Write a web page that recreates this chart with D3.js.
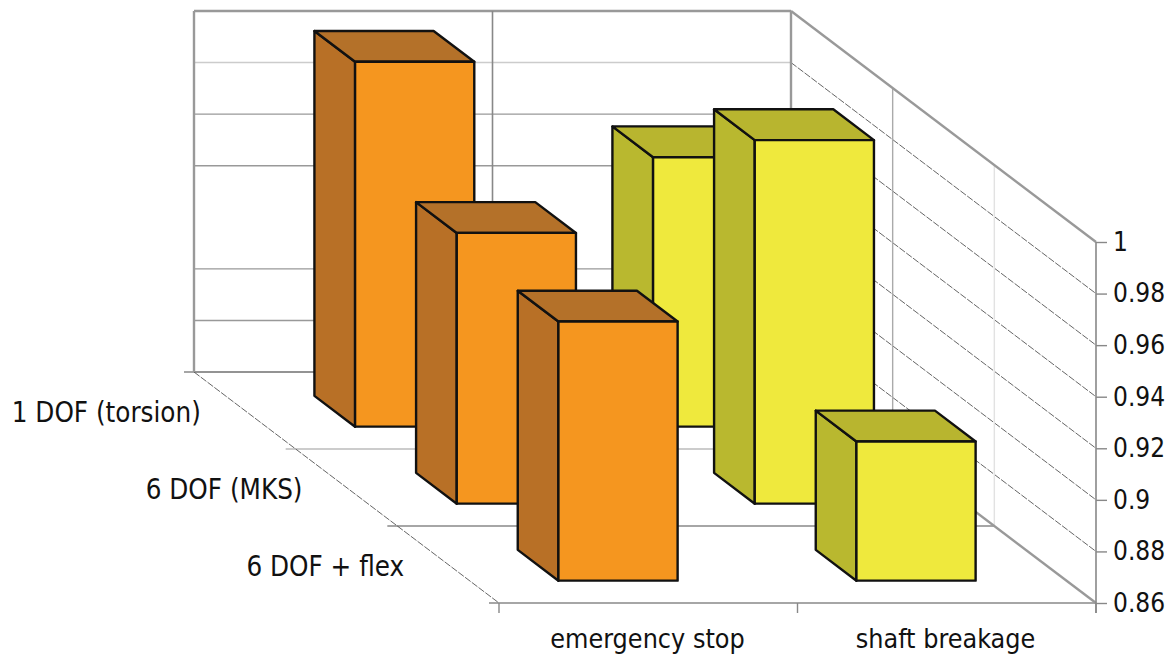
<!DOCTYPE html>
<html>
<head>
<meta charset="utf-8">
<script src="https://cdn.jsdelivr.net/npm/d3@7"></script>
<style>
  html, body { margin: 0; background: #fff; }
  svg { display: block; }
  text { font-family: "DejaVu Sans Condensed", "DejaVu Sans", sans-serif; font-stretch: condensed; font-size: 26px; fill: #111; }
  .axis-x text { font-size: 26.7px; }
  text.series { font-size: 27.5px; }
  .axis path { display: none; }
</style>
</head>
<body>
<svg id="chart" width="1173" height="654"></svg>
<script>
const categories = ["emergency stop", "shaft breakage"];
// front to back
const seriesNames = ["6 DOF + flex", "6 DOF (MKS)", "1 DOF (torsion)"];
const emergencyStop = [0.9605, 0.965, 1.0015];
const shaftBreakage = [0.914, 1.001, 0.9645];
const valueTicks = [0.86, 0.88, 0.9, 0.92, 0.94, 0.96, 0.98, 1];
// the 0.92 line does not show on the back wall of the original
const backWallTicks = [0.86, 0.88, 0.9, 0.94, 0.96, 0.98, 1];
const seriesValues = [emergencyStop, shaftBreakage];

const frontLeft = 499, frontRight = 1096, floorY = 603, topY = 242;
const barDepth = 0.4, barStart = 0.29;

const svg = d3.select("#chart");
const xScale = d3.scaleBand().domain(categories).range([frontLeft - 0.5, frontRight - 1.5]).paddingInner(0.6).paddingOuter(0.3);
const yScale = d3.scaleLinear().domain([0.86, 1]).range([floorY, topY]);
const depthX = d3.scaleLinear().domain([0, 3]).range([0, -305]);
const depthY = d3.scaleLinear().domain([0, 3]).range([0, -231]);

function project(x, value, depth) {
  return [x + depthX(depth), yScale(value) + depthY(depth)];
}
function wallLine(from, to, stroke, width, dash) {
  svg.append("line")
    .attr("x1", from[0]).attr("y1", from[1])
    .attr("x2", to[0]).attr("y2", to[1])
    .attr("stroke", stroke)
    .attr("stroke-width", width)
    .attr("stroke-dasharray", dash || null);
}

// back wall
backWallTicks.forEach(function(v) {
  let isLight = v === 0.98;
  wallLine(project(frontLeft, v, 3), project(frontRight, v, 3), isLight ? "#ccc" : "#999", 1.4);
});
// right wall
valueTicks.slice(1, -1).forEach(function(v) {
  wallLine(project(frontRight, v, 3), project(frontRight, v, 0), "#555", 0.9, "7 1.5");
});
[1, 2].forEach(function(d) {
  wallLine(project(frontRight, 0.86, d), project(frontRight, 1, d), d === 1 ? "#e2e2e2" : "#aaa", 1.4);
});

// floor
[0, 1, 2, 3].forEach(function(d) {
  let left = project(frontLeft - 10, 0.86, d);
  wallLine(left, project(frontRight, 0.86, d), d === 2 ? "#bbb" : "#888", d === 0 ? 1.6 : 1.4);
});
wallLine(project(frontLeft, 0.86, 3), project(frontLeft, 0.86, 0), "#555", 0.9, "7 1.5");

// frame
wallLine(project(frontLeft, 0.86, 3), project(frontLeft, 1, 3), "#999", 2.4);
wallLine(project(frontLeft, 1, 3), project(frontRight, 1, 3), "#999", 2.4);
wallLine(project(frontRight, 0.86, 3), project(frontRight, 1, 3), "#999", 2.4);
wallLine(project((frontLeft + frontRight) / 2, 0.86, 3), project((frontLeft + frontRight) / 2, 1, 3), "#888", 1.6);
wallLine(project(frontRight, 1, 3), project(frontRight, 1, 0), "#999", 2.4);
wallLine(project(frontRight, 0.86, 3), project(frontRight, 0.86, 0), "#999", 2.4);

// bars, back to front
const colors = [
  {front: "#f5961f", side: "#b87026", top: "#b47129"},
  {front: "#efe93d", side: "#b9b82f", top: "#b8b52f"}
];
const bars = [];
seriesNames.forEach(function(name, s) {
  categories.forEach(function(cat, c) {
    bars.push({cat: cat, catIndex: c, depth: s, value: seriesValues[c][s]});
  });
});
bars.sort(function(a, b) { return b.depth - a.depth || a.catIndex - b.catIndex; });

const line = d3.line();
const barGroups = svg.selectAll("g.bar").data(bars).enter().append("g").attr("class", "bar")
  .attr("stroke", "#111").attr("stroke-width", 2.4).attr("stroke-linejoin", "round");

barGroups.append("path")
  .attr("fill", function(d) { return colors[d.catIndex].side; })
  .attr("d", function(d) {
    let x = xScale(d.cat), z0 = d.depth + barStart, z1 = z0 + barDepth;
    return line([project(x, 0.86, z0), project(x, d.value, z0), project(x, d.value, z1), project(x, 0.86, z1)]) + "Z";
  });
barGroups.append("path")
  .attr("fill", function(d) { return colors[d.catIndex].top; })
  .attr("d", function(d) {
    let x = xScale(d.cat), x2 = x + xScale.bandwidth(), z0 = d.depth + barStart, z1 = z0 + barDepth;
    return line([project(x, d.value, z0), project(x, d.value, z1), project(x2, d.value, z1), project(x2, d.value, z0)]) + "Z";
  });
barGroups.append("path")
  .attr("fill", function(d) { return colors[d.catIndex].front; })
  .attr("d", function(d) {
    let x = xScale(d.cat), x2 = x + xScale.bandwidth(), z0 = d.depth + barStart;
    return line([project(x, 0.86, z0), project(x, d.value, z0), project(x2, d.value, z0), project(x2, 0.86, z0)]) + "Z";
  });

// value axis
const yAxis = d3.axisRight(yScale).tickValues(valueTicks).tickSize(11).tickPadding(6)
  .tickFormat(function(d) { return String(d); });
const yG = svg.append("g").attr("class", "axis axis-y")
  .attr("transform", "translate(" + frontRight + ",0)")
  .call(yAxis);
yG.selectAll(".tick line").attr("stroke", "#888").attr("stroke-width", 1.4);
wallLine([frontRight, topY], [frontRight, floorY + 10], "#888", 1.6);

// category axis
const xAxis = d3.axisBottom(xScale).tickSize(0).tickPadding(26);
const xG = svg.append("g").attr("class", "axis axis-x")
  .attr("transform", "translate(0," + floorY + ")")
  .call(xAxis);
xG.selectAll("text").attr("font-family", null).attr("font-size", null);
[0, 0.5, 1].forEach(function(f) {
  let x = frontLeft + f * (frontRight - frontLeft);
  wallLine([x, floorY], [x, floorY + 10], "#888", 1.4);
});

// series labels along the left of the floor
svg.selectAll("text.series").data(seriesNames).enter().append("text")
  .attr("class", "series")
  .attr("text-anchor", "end")
  .attr("x", function(d, i) { return frontLeft + depthX(i + 0.5) - 44; })
  .attr("y", function(d, i) { return floorY + depthY(i + 0.5) + 11; })
  .text(function(d) { return d; });
</script>
</body>
</html>
